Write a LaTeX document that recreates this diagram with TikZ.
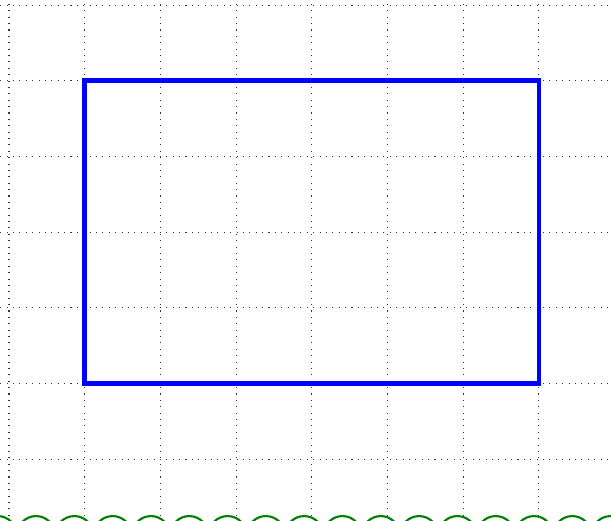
\documentclass[tikz,border=0pt]{standalone}
\begin{document}
\begin{tikzpicture}[x=1cm,y=1cm,
  gridline/.style={dotted, line width=0.4pt, black!80},
  bluebox/.style={draw=blue, line width=1.8pt},
  loop/.style={draw=green!50!black, line width=0.8pt}]
\useasboundingbox (-0.119,0.185) rectangle (7.952,7.067);
\clip (-0.119,0.185) rectangle (7.952,7.067);
\foreach \x in {0,...,8} \draw[gridline] (\x,0) -- (\x,7.2);
\foreach \y in {0,...,7} \draw[gridline] (-0.2,\y) -- (8.2,\y);
\draw[bluebox] (1,2) rectangle (7,6);
\foreach \k in {-1,...,16} \draw[loop] ({0.357+0.506*\k},0) circle (0.25);
\end{tikzpicture}
\end{document}
